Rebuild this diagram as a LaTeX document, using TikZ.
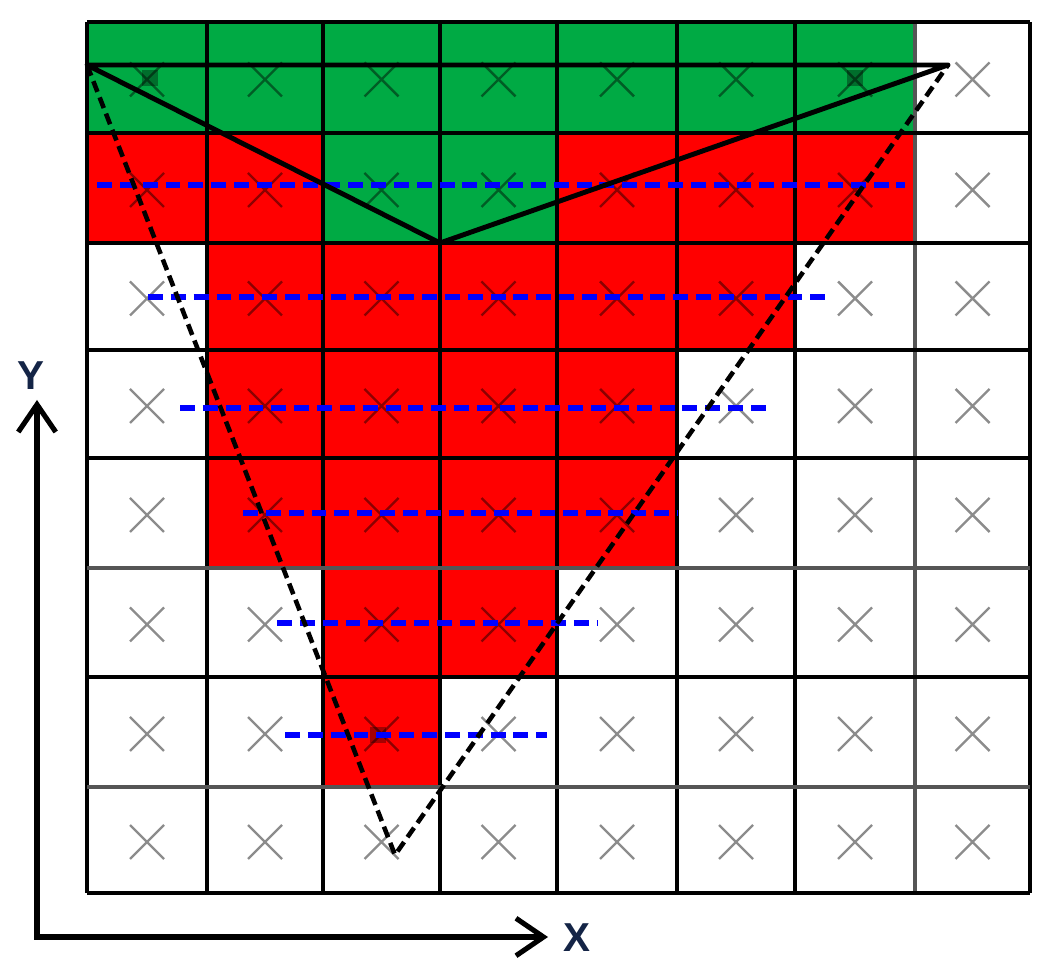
\documentclass[tikz,border=0pt]{standalone}
\usepackage{fontspec}
\setmainfont{Liberation Sans}
\usetikzlibrary{arrows.meta}
\definecolor{cgreen}{RGB}{0,170,68}
\definecolor{cred}{RGB}{255,0,0}
\definecolor{cblue}{RGB}{0,0,255}
\definecolor{axlab}{RGB}{20,36,70}
\definecolor{glgray}{RGB}{85,85,85}
\definecolor{xgray}{RGB}{140,140,140}
\begin{document}
\begin{tikzpicture}[x=0.02cm,y=-0.02cm,
  gridline/.style={line width=2.2pt,black},
  gridgray/.style={line width=2.4pt,glgray},
  crossmark/.style={line width=1.4pt,xgray,blend mode=multiply},
  solidedge/.style={line width=2.8pt,black,line join=round},
  dashedge/.style={line width=2.6pt,black,dash pattern=on 6.5pt off 3.4pt},
  scanline/.style={line width=3.3pt,cblue,dash pattern=on 8.5pt off 4.5pt},
  vmark/.style={fill=black,opacity=0.35},
  axis/.style={line width=2.9pt,black,arrows={Straight Barb[length=0.55cm,width=0.75cm,line width=2.9pt]-Straight Barb[length=0.55cm,width=0.75cm,line width=2.9pt]}},
  axislabel/.style={text=axlab,font=\fontsize{23}{25}\selectfont\bfseries,inner sep=0pt}]
\useasboundingbox (0,0) rectangle (1052,972);
% cell fills
\fill[cgreen] (87,22) rectangle (915,133);
\fill[cred] (87,133) rectangle (323,243);
\fill[cgreen] (323,133) rectangle (557,243);
\fill[cred] (557,133) rectangle (915,243);
\fill[cred] (207,243) rectangle (795,350);
\fill[cred] (207,350) rectangle (677,458);
\fill[cred] (207,458) rectangle (677,568);
\fill[cred] (323,568) rectangle (557,677);
\fill[cred] (323,677) rectangle (440,787);
% crosses
\foreach \xa/\xb in {87/207,207/323,323/440,440/557,557/677,677/795,795/915,915/1030}{
  \foreach \ya/\yb in {22/133,133/243,243/350,350/458,458/568,568/677,677/787,787/893}{
    \pgfmathsetmacro{\cx}{(\xa+\xb)/2}
    \pgfmathsetmacro{\cy}{(\ya+\yb)/2+2}
    \draw[crossmark] (\cx-17,\cy-17) -- (\cx+17,\cy+17) (\cx-17,\cy+17) -- (\cx+17,\cy-17);
  }
}
% grid lines
\foreach \gx in {87,207,323,440,557,677,795,1030}{\draw[gridline] (\gx,22) -- (\gx,893);}
\draw[gridgray] (915,22) -- (915,893);
\foreach \gy in {22,133,243,350,458,677,893}{\draw[gridline] (87,\gy) -- (1030,\gy);}
\foreach \gy in {568,787}{\draw[gridgray] (87,\gy) -- (1030,\gy);}
% triangle vertices
\coordinate (A) at (87,65);
\coordinate (B) at (948,65);
\coordinate (C) at (440,243);
\coordinate (D) at (395,855);
% dark vertex marks
\fill[vmark] (142,70) rectangle (158,86);
\fill[vmark] (847,70) rectangle (863,86);
\fill[vmark] (370,727) rectangle (386,743);
% scan lines
\coordinate (s1a) at (97,185);  \coordinate (s1b) at (905,185);
\coordinate (s2a) at (148,297); \coordinate (s2b) at (830,297);
\coordinate (s3a) at (180,408); \coordinate (s3b) at (773,408);
\coordinate (s4a) at (243,513); \coordinate (s4b) at (677,513);
\coordinate (s5a) at (277,623); \coordinate (s5b) at (597,623);
\coordinate (s6a) at (285,735); \coordinate (s6b) at (547,735);
\foreach \i in {1,...,6}{\draw[scanline] (s\i a) -- (s\i b);}
% triangles
\draw[dashedge] (A) -- (D) -- (B);
\draw[solidedge] (A) -- (B) -- (C) -- cycle;
% axes
\coordinate (O) at (37,937);
\coordinate (ytip) at (37,400);
\coordinate (xtip) at (548,937);
\draw[axis] (ytip) -- (O) -- (xtip);
\node[axislabel] (ylab) at (31,376) {Y};
\node[axislabel] (xlab) at (577,938) {X};
\end{tikzpicture}
\end{document}
